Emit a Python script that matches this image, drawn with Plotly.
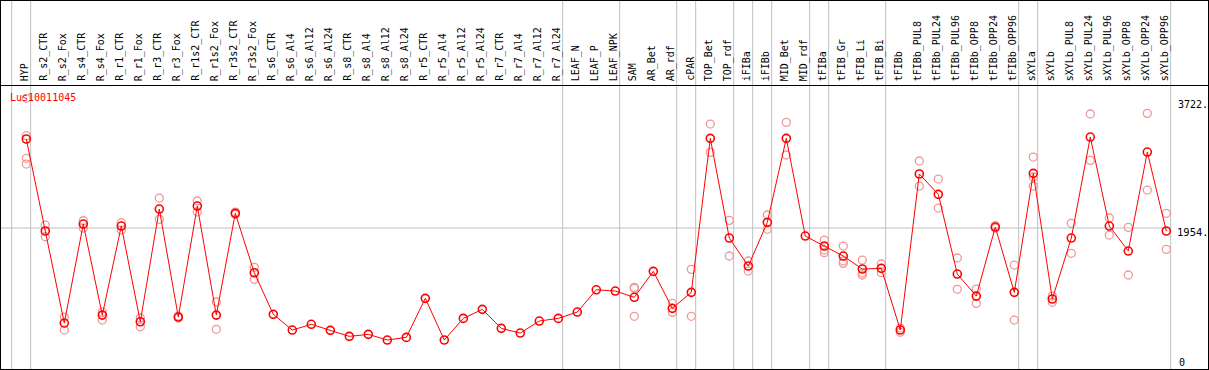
import plotly.graph_objects as go

# ---------------- data ----------------
title_text = "Lus10011045"

categories = [
    "HYP", "R_s2_CTR", "R_s2_Fox", "R_s4_CTR", "R_s4_Fox", "R_r1_CTR", "R_r1_Fox",
    "R_r3_CTR", "R_r3_Fox", "R_r1s2_CTR", "R_r1s2_Fox", "R_r3s2_CTR", "R_r3s2_Fox",
    "R_s6_CTR", "R_s6_Al4", "R_s6_Al12", "R_s6_Al24", "R_s8_CTR", "R_s8_Al4",
    "R_s8_Al12", "R_s8_Al24", "R_r5_CTR", "R_r5_Al4", "R_r5_Al12", "R_r5_Al24",
    "R_r7_CTR", "R_r7_Al4", "R_r7_Al12", "R_r7_Al24", "LEAF_N", "LEAF_P", "LEAF_NPK",
    "SAM", "AR_Bet", "AR_rdf", "cPAR", "TOP_Bet", "TOP_rdf", "iFIBa", "iFIBb",
    "MID_Bet", "MID_rdf", "tFIBa", "tFIB_Gr", "tFIB_Li", "tFIB_Bi", "tFIBb",
    "tFIBb_PUL8", "tFIBb_PUL24", "tFIBb_PUL96", "tFIBb_OPP8", "tFIBb_OPP24",
    "tFIBb_OPP96", "sXYLa", "sXYLb", "sXYLb_PUL8", "sXYLb_PUL24", "sXYLb_PUL96",
    "sXYLb_OPP8", "sXYLb_OPP24", "sXYLb_OPP96",
]

means = [
    3167, 1913, 658, 2008, 767, 1981, 676, 2212, 740, 2253, 767, 2154, 1344,
    777, 563, 641, 559, 477, 504, 427, 463, 995, 427, 722, 845,
    586, 522, 686, 722, 808, 1112, 1095,
    1009, 1363, 859, 1077, 3176, 1817, 1435, 2031,
    3176, 1844, 1708, 1572, 1395, 1404, 563,
    2690, 2413, 1326, 1026, 1967, 1077,
    2699, 986, 1817, 3194, 1981, 1640, 2989, 1913,
]

replicates = [
    [3722, 3212, 2904, 2826], [1994, 1835], [740, 563], [2053, 1953], [808, 699],
    [2026, 1926], [727, 608], [2362, 2072], [754, 727], [2322, 2172], [945, 573],
    [2170, 2140], [1418, 1254],
    [], [], [], [], [], [], [], [], [], [], [], [], [], [], [], [], [], [], [],
    [1145, 1131, 750], [], [927, 804], [1390, 750], [3371, 2985], [2058, 1572],
    [1504, 1367], [2131, 1936], [3394, 2949], [], [1790, 1654, 1617],
    [1708, 1504, 1472], [1517, 1313, 1340], [1463, 1345], [532, 590],
    [2867, 2526], [2621, 2226], [1545, 1118], [1122, 927], [1986, 1953], [1449, 699],
    [2921, 2526, 2649], [1026, 941], [2018, 1609], [3508, 2876], [2090, 1858],
    [1963, 1313], [3517, 2471], [2154, 1663],
]

# index of last category in each group (group separators drawn after them)
group_ends = [-1, 0, 28, 31, 34, 35, 37, 38, 39, 41, 42, 45, 52, 53, 60]

ref_value = 1954
max_value = 3722
axis_labels = ["3722.", "1954.", "0"]

# ---------------- geometry ----------------
W, H = 1209, 370
X_FIRST_PX = 26.3
X_STEP_PX = 19.0
xmin = -X_FIRST_PX / X_STEP_PX
xmax = xmin + W / X_STEP_PX
Y_MAX_PX, Y_REF_PX = 98.3, 228.0
k = (Y_REF_PX - Y_MAX_PX) / (max_value - ref_value)
ymax = max_value + Y_MAX_PX / k
ymin = ymax - H / k


def py(pix):
    return 1 - pix / H


def px(pix):
    return pix / W


GRID = "#c0c0c0"
RED = "#ff0000"
PINK = "#f09898"
MONO = "DejaVu Sans Mono"

x_idx = list(range(len(categories)))

fig = go.Figure()

rx, ry = [], []
for i, reps in enumerate(replicates):
    for v in reps:
        rx.append(i)
        ry.append(v)

fig.add_trace(go.Scatter(
    x=rx, y=ry, mode="markers",
    marker=dict(symbol="circle-open", size=8, color=PINK, line=dict(width=1.3, color=PINK)),
    hoverinfo="skip", showlegend=False,
))

fig.add_trace(go.Scatter(
    x=x_idx, y=means, mode="lines+markers",
    line=dict(color=RED, width=1),
    marker=dict(symbol="circle-open", size=8, color=RED, line=dict(width=1.6, color=RED)),
    hoverinfo="skip", showlegend=False,
))

shapes = []
# vertical group separators
for g in group_ends:
    shapes.append(dict(type="line", xref="x", yref="paper", x0=g + 0.23, x1=g + 0.23,
                       y0=0, y1=1, line=dict(color=GRID, width=1), layer="below"))
# reference horizontal line
shapes.append(dict(type="line", xref="paper", yref="y", x0=0, x1=px(1170),
                   y0=ref_value, y1=ref_value, line=dict(color=GRID, width=1), layer="below"))
# header separator
shapes.append(dict(type="line", xref="paper", yref="paper", x0=0, x1=1,
                   y0=py(85.5), y1=py(85.5), line=dict(color="black", width=1)))
# frame
shapes.append(dict(type="rect", xref="paper", yref="paper", x0=0, x1=1, y0=0, y1=1,
                   line=dict(color="black", width=2)))

annotations = []
for i, c in enumerate(categories):
    annotations.append(dict(
        x=i - 1.0 / X_STEP_PX, y=py(82), xref="x", yref="paper",
        text=c, textangle=-90, showarrow=False, xanchor="center", yanchor="bottom",
        font=dict(family=MONO, size=10, color="black"), borderpad=0,
    ))

annotations.append(dict(
    x=px(9), y=py(97.5), xref="paper", yref="paper", text=title_text, showarrow=False,
    xanchor="left", yanchor="middle", font=dict(family=MONO, size=10, color=RED), borderpad=0,
))
annotations.append(dict(
    x=px(1177), y=py(104.5), xref="paper", yref="paper", text=axis_labels[0], showarrow=False,
    xanchor="left", yanchor="middle", font=dict(family=MONO, size=10, color="black"), borderpad=0,
))
annotations.append(dict(
    x=px(1176), y=py(231.5), xref="paper", yref="paper", text=axis_labels[1], showarrow=False,
    xanchor="left", yanchor="middle", font=dict(family=MONO, size=10.5, color="black"), borderpad=0,
))
annotations.append(dict(
    x=px(1178), y=py(362), xref="paper", yref="paper", text=axis_labels[2], showarrow=False,
    xanchor="left", yanchor="middle", font=dict(family=MONO, size=10, color="black"), borderpad=0,
))

fig.update_layout(
    width=W, height=H, autosize=False,
    margin=dict(l=0, r=0, t=0, b=0, pad=0),
    paper_bgcolor="white", plot_bgcolor="white",
    xaxis=dict(range=[xmin, xmax], visible=False, fixedrange=True),
    yaxis=dict(range=[ymin, ymax], visible=False, fixedrange=True),
    shapes=shapes, annotations=annotations,
    showlegend=False,
)

fig.write_html("out.html", config={"displayModeBar": False, "staticPlot": True},
               post_script="document.body.style.margin='0';document.body.style.overflow='hidden';")
